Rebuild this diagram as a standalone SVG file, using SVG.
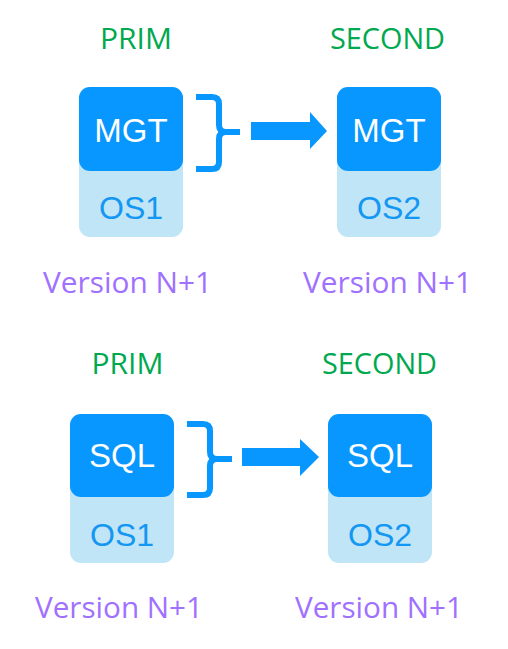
<svg xmlns="http://www.w3.org/2000/svg" width="508" height="649" viewBox="0 0 508 649">
<style>
.lt{fill:#BFE5F7}
.dk{fill:#0897FF}
.app{font-family:"Liberation Sans",Arial,sans-serif;font-size:33px;fill:#FFFFFF;text-anchor:middle}
.os{font-family:"Liberation Sans",Arial,sans-serif;font-size:32px;fill:#1497F2;text-anchor:middle}
.role{font-family:"Open Sans","Noto Sans",sans-serif;font-size:29px;fill:#00A84F;text-anchor:middle}
.ver{font-family:"Open Sans","Noto Sans",sans-serif;font-size:29px;fill:#A070FF;text-anchor:middle}
.br{fill:none;stroke:#0897FF;stroke-width:6;stroke-linejoin:round}
.ar{fill:#0897FF}
</style>
<rect width="508" height="649" fill="#FFFFFF"/>
<g id="labels">
<text class="role" x="136" y="49" textLength="72" lengthAdjust="spacingAndGlyphs">PRIM</text>
<text class="role" x="387.5" y="49" textLength="115" lengthAdjust="spacingAndGlyphs">SECOND</text>
<text class="ver" x="127.5" y="293" textLength="169" lengthAdjust="spacingAndGlyphs">Version N+1</text>
<text class="ver" x="387.5" y="293" textLength="169" lengthAdjust="spacingAndGlyphs">Version N+1</text>
<text class="role" x="127.5" y="374" textLength="72" lengthAdjust="spacingAndGlyphs">PRIM</text>
<text class="role" x="379.5" y="374" textLength="115" lengthAdjust="spacingAndGlyphs">SECOND</text>
<text class="ver" x="119" y="618" textLength="168" lengthAdjust="spacingAndGlyphs">Version N+1</text>
<text class="ver" x="379" y="618" textLength="168" lengthAdjust="spacingAndGlyphs">Version N+1</text>
</g>
<g id="node-prim-mgt">
<rect class="lt" x="79" y="87" width="104" height="150" rx="11"/>
<rect class="dk" x="79" y="87" width="104" height="84" rx="11"/>
<text class="app" x="131" y="142">MGT</text>
<text class="os" x="131" y="219">OS1</text>
</g>
<g id="node-second-mgt">
<rect class="lt" x="337" y="87" width="104" height="150" rx="11"/>
<rect class="dk" x="337" y="87" width="104" height="84" rx="11"/>
<text class="app" x="389" y="142">MGT</text>
<text class="os" x="389" y="219">OS2</text>
</g>
<g id="node-prim-sql">
<rect class="lt" x="70" y="414" width="104" height="149" rx="11"/>
<rect class="dk" x="70" y="414" width="104" height="83" rx="11"/>
<text class="app" x="122" y="467">SQL</text>
<text class="os" x="122" y="546">OS1</text>
</g>
<g id="node-second-sql">
<rect class="lt" x="328" y="414" width="104" height="149" rx="11"/>
<rect class="dk" x="328" y="414" width="104" height="83" rx="11"/>
<text class="app" x="380" y="467">SQL</text>
<text class="os" x="380" y="546">OS2</text>
</g>
<g id="connectors">
<path class="br" d="M196,97 H212 Q219,97 219,104 V125 Q219,132 226,132 H240 M226,132 Q219,132 219,139 V162 Q219,169 212,169 H196"/>
<polygon class="ar" points="251,122 310,122 310,112 327,131 310,149 310,140 251,140"/>
<path class="br" d="M187,424 H203 Q210,424 210,431 V452 Q210,459 217,459 H232 M217,459 Q210,459 210,466 V488 Q210,495 203,495 H187"/>
<polygon class="ar" points="242,448 300,448 300,439 319,457 300,476 300,466 242,466"/>
</g>
</svg>
